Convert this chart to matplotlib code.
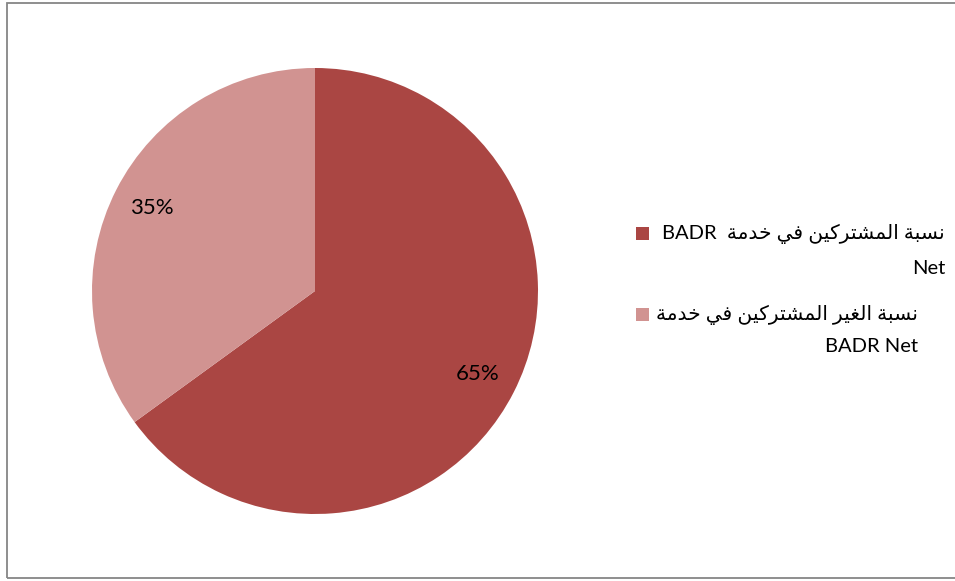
import matplotlib
matplotlib.use('Agg')
import matplotlib.pyplot as plt
from matplotlib.patches import Rectangle

# data
labels_ar = ['نسبة المشتركين في خدمة', 'نسبة الغير المشتركين في خدمة']
shares = [65, 35]
colors = ['#AA4643', '#D19391']

# presentation forms: isol, fina, init, medi
forms = {
    'ا': ('\uFE8D', '\uFE8E', None, None),
    'ب': ('\uFE8F', '\uFE90', '\uFE91', '\uFE92'),
    'ة': ('\uFE93', '\uFE94', None, None),
    'ت': ('\uFE95', '\uFE96', '\uFE97', '\uFE98'),
    'خ': ('\uFEA5', '\uFEA6', '\uFEA7', '\uFEA8'),
    'د': ('\uFEA9', '\uFEAA', None, None),
    'ر': ('\uFEAD', '\uFEAE', None, None),
    'س': ('\uFEB1', '\uFEB2', '\uFEB3', '\uFEB4'),
    'ش': ('\uFEB5', '\uFEB6', '\uFEB7', '\uFEB8'),
    'غ': ('\uFECD', '\uFECE', '\uFECF', '\uFED0'),
    'ف': ('\uFED1', '\uFED2', '\uFED3', '\uFED4'),
    'ك': ('\uFED9', '\uFEDA', '\uFEDB', '\uFEDC'),
    'ل': ('\uFEDD', '\uFEDE', '\uFEDF', '\uFEE0'),
    'م': ('\uFEE1', '\uFEE2', '\uFEE3', '\uFEE4'),
    'ن': ('\uFEE5', '\uFEE6', '\uFEE7', '\uFEE8'),
    'ي': ('\uFEF1', '\uFEF2', '\uFEF3', '\uFEF4'),
}


def shape_arabic(text):
    # join letters and return them in visual (left to right) order
    out = []
    for i, c in enumerate(text):
        if c not in forms:
            out.append(c)
            continue
        prev = text[i - 1] if i > 0 else ''
        nxt = text[i + 1] if i < len(text) - 1 else ''
        join_prev = prev in forms and forms[prev][2] is not None
        join_next = forms[c][2] is not None and nxt in forms
        if join_prev and join_next:
            out.append(forms[c][3])
        elif join_prev:
            out.append(forms[c][1])
        elif join_next:
            out.append(forms[c][2])
        else:
            out.append(forms[c][0])
    return ''.join(out[::-1])


fam = ['Lato', 'DejaVu Sans']

fig = plt.figure(figsize=(9.55, 5.81), dpi=100)

# outer frame
fig.patches.append(Rectangle((6.5 / 955, 3 / 581), 1.1, 575 / 581, transform=fig.transFigure,
                             fill=False, edgecolor='#868686', linewidth=1.3))

ax = fig.add_axes([92 / 955, 67 / 581, 446 / 955, 446 / 581])
wedges, texts, autotexts = ax.pie(shares, colors=colors, startangle=90, counterclock=False,
                                  autopct='%d%%', pctdistance=0.82, radius=1)
for t in autotexts:
    t.set_fontsize(16)
    t.set_family(fam)
    t.set_color('black')
ax.set_xlim(-1, 1)
ax.set_ylim(-1, 1)
ax.set_aspect('equal')
ax.axis('off')

# legend
line1 = ['BADR  ' + shape_arabic(labels_ar[0]), shape_arabic(labels_ar[1])]
line2 = ['Net', 'BADR Net']
right_edge = [945, 918]
rows = [(234, 268), (315, 347)]
for i in range(2):
    fig.patches.append(Rectangle((636 / 955, 1 - (rows[i][0] + 6) / 581), 13 / 955, 13 / 581,
                                 transform=fig.transFigure, facecolor=colors[i], edgecolor='none'))
    fig.text(right_edge[i] / 955, 1 - rows[i][0] / 581, line1[i], ha='right', va='center',
             fontsize=14.5, family=fam)
    fig.text(right_edge[i] / 955, 1 - rows[i][1] / 581, line2[i], ha='right', va='center',
             fontsize=14.5, family=fam)

fig.savefig('out.png', dpi=100)
